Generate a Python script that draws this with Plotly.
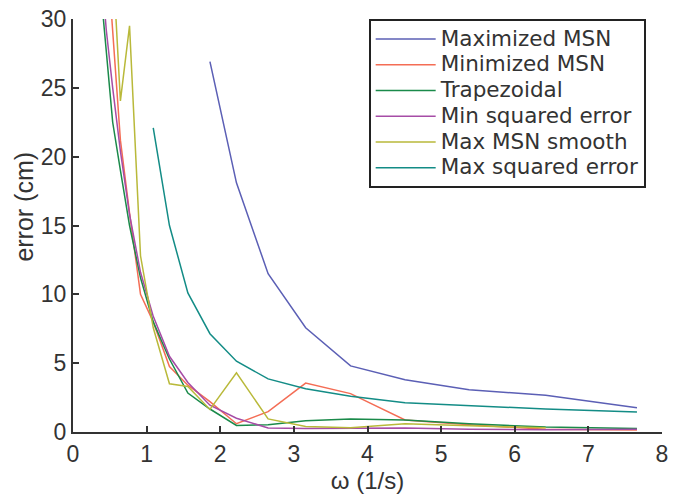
import plotly.graph_objects as go

# angular frequency samples (1/s)
omega = [0.379, 0.452, 0.539, 0.644, 0.768, 0.917, 1.09, 1.31, 1.56, 1.86,
         2.22, 2.65, 3.16, 3.77, 4.51, 5.38, 6.42, 7.66]

# error (cm) for each method
maximized_msn = [26.9, 18.1, 11.5, 7.57, 4.8, 3.79, 3.07, 2.67, 1.76]            # from omega[9]
minimized_msn = [35.7, 29.0, 21.2, 15.9, 10.0, 8.0, 4.76, 3.4, 2.2, 0.6, 1.48,
                 3.55, 2.79, 0.88, 0.52, 0.2, 0.14]                               # from omega[1]
trapezoidal = [32.0, 27.9, 22.5, 19.0, 15.0, 11.2, 8.0, 5.3, 2.83, 1.67, 0.48,
               0.52, 0.81, 0.95, 0.88, 0.6, 0.36, 0.26]                           # from omega[0]
min_sq_error = [34.0, 29.2, 25.0, 20.4, 15.8, 11.6, 8.4, 5.5, 3.6, 1.95, 1.0,
                0.29, 0.26, 0.26, 0.29, 0.2, 0.17, 0.2]                           # from omega[0]
max_msn_smooth = [45.0, 34.5, 24.05, 29.5, 12.8, 7.57, 3.5, 3.3, 1.64, 4.3, 0.95,
                  0.4, 0.3, 0.6, 0.45, 0.3]                                       # from omega[1]
max_sq_error = [22.1, 15.0, 10.1, 7.14, 5.14, 3.86, 3.14, 2.6, 2.12, 1.9, 1.67,
                1.45]                                                             # from omega[6]

x_ticks = [0, 1, 2, 3, 4, 5, 6, 7, 8]
y_ticks = [0, 5, 10, 15, 20, 25, 30]

series = [
    ("Maximized MSN", omega[9:], maximized_msn, "#5b5fb5"),
    ("Minimized MSN", omega[1:], minimized_msn, "#f46d55"),
    ("Trapezoidal", omega[0:], trapezoidal, "#1a8a4a"),
    ("Min squared error", omega[0:], min_sq_error, "#a64ca6"),
    ("Max MSN smooth", omega[1:1 + len(max_msn_smooth)], max_msn_smooth, "#b9b93a"),
    ("Max squared error", omega[6:], max_sq_error, "#138c86"),
]

FONT = "Liberation Sans"
LEG_FONT = "DejaVu Sans"
TXT = "#333333"

fig = go.Figure()
for name, xs, ys, col in series:
    fig.add_trace(go.Scatter(
        x=xs, y=ys, mode="lines",
        name='<span style="font-size:21.5px">' + name + '</span>',
        line=dict(color=col, width=1.5),
    ))

fig.update_layout(
    width=675, height=495,
    margin=dict(l=72.5, r=6.3, t=14.3, b=61),
    paper_bgcolor="white", plot_bgcolor="white",
    font=dict(family=FONT, size=23, color=TXT),
    showlegend=True,
    legend=dict(
        x=0.502, y=1.0, xanchor="left", yanchor="top",
        bgcolor="white", bordercolor="#222222", borderwidth=2,
        font=dict(family=LEG_FONT, size=17.5, color=TXT),
        itemwidth=60, tracegroupgap=0,
    ),
    xaxis=dict(
        range=[0, 8], tickvals=x_ticks, ticktext=[str(v) for v in x_ticks],
        showgrid=False, zeroline=False, showline=True, linecolor="#333333", linewidth=2,
        ticks="inside", ticklen=6, tickwidth=2, tickcolor="#333333",
        tickfont=dict(family=FONT, size=23, color=TXT),
        ticklabeloverflow="allow",
        title=dict(text="ω (1/s)", font=dict(family=FONT, size=24, color=TXT), standoff=5),
        mirror=False,
    ),
    yaxis=dict(
        range=[0, 30], tickvals=y_ticks, ticktext=[str(v) for v in y_ticks],
        showgrid=False, zeroline=False, showline=True, linecolor="#333333", linewidth=2,
        ticks="inside", ticklen=6, tickwidth=2, tickcolor="#333333",
        tickfont=dict(family=FONT, size=23, color=TXT),
        ticklabeloverflow="allow",
        mirror=False,
    ),
    annotations=[dict(
        text="error (cm)", textangle=-90, showarrow=False,
        xref="paper", yref="paper", x=-0.0847, y=0.546,
        xanchor="center", yanchor="middle",
        font=dict(family=FONT, size=25, color=TXT),
    )],
)

fig.write_html("out.html")
